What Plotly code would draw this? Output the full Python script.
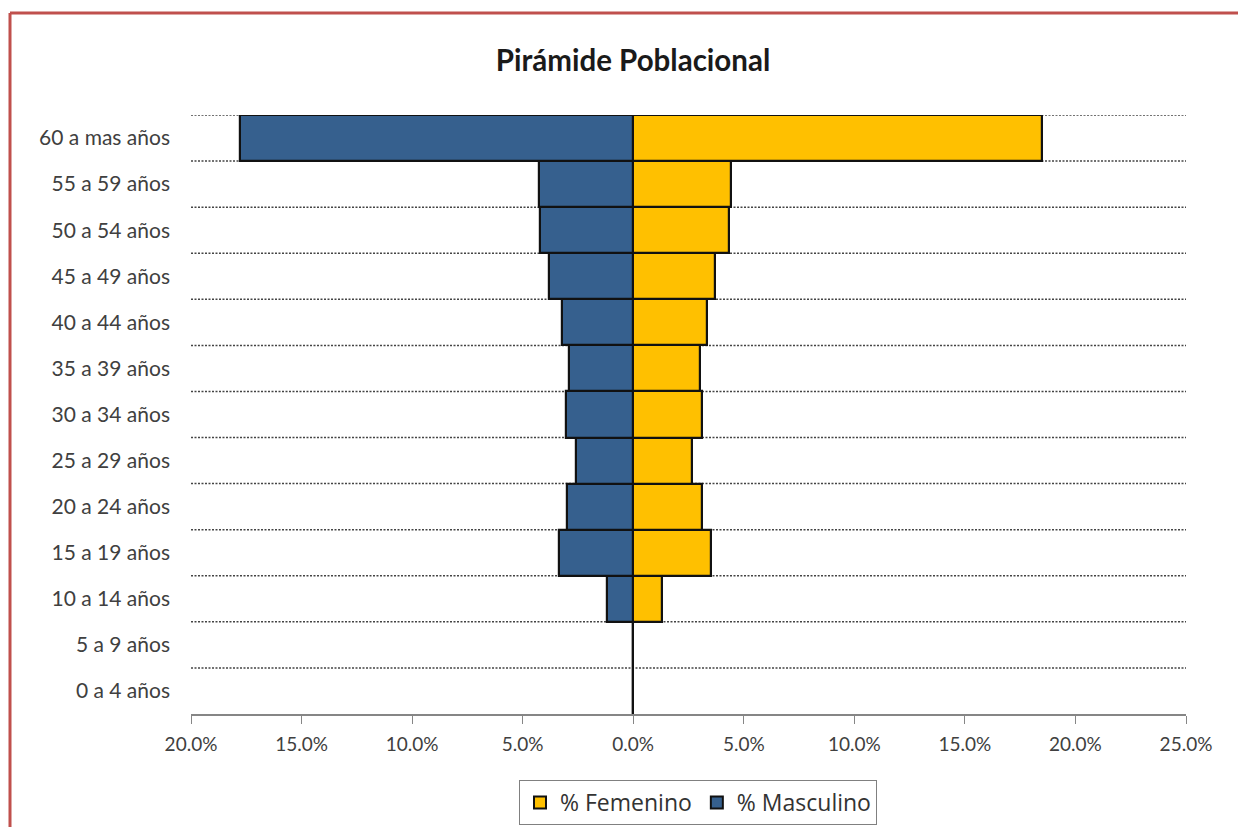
import plotly.graph_objects as go

categories = ["0 a 4 años", "5 a 9 años", "10 a 14 años", "15 a 19 años", "20 a 24 años",
              "25 a 29 años", "30 a 34 años", "35 a 39 años", "40 a 44 años", "45 a 49 años",
              "50 a 54 años", "55 a 59 años", "60 a mas años"]
femenino = [0.0, 0.0, 1.3, 3.5, 3.1, 2.65, 3.1, 3.0, 3.35, 3.7, 4.35, 4.4, 18.5]
masculino = [0.0, 0.0, 1.2, 3.35, 3.0, 2.6, 3.05, 2.9, 3.2, 3.8, 4.2, 4.25, 17.8]
tick_values = [-20, -15, -10, -5, 0, 5, 10, 15, 20, 25]
tick_labels = ["20.0%", "15.0%", "10.0%", "5.0%", "0.0%", "5.0%", "10.0%", "15.0%", "20.0%", "25.0%"]

W, H = 1238, 827
L, R, T, B = 191, 1186, 115, 714

fig = go.Figure()
fig.add_trace(go.Bar(
    y=categories, x=femenino, orientation="h", name="% Femenino",
    marker=dict(color="#FFC000", line=dict(color="#111111", width=2.2)),
))
fig.add_trace(go.Bar(
    y=categories, x=[-v for v in masculino], orientation="h", name="% Masculino",
    marker=dict(color="#36608E", line=dict(color="#111111", width=2.2)),
))

# dotted category-boundary gridlines
shapes = []
for i in range(len(categories)):
    yb = i + 0.5
    shapes.append(dict(type="line", xref="paper", x0=0, x1=1, yref="y", y0=yb, y1=yb,
                       line=dict(color="#444444", width=1.5, dash="2px,1.5px"), layer="below"))

# red outer border (top and left)
def px_x(p):
    return (p - L) / (R - L)

def px_y(p):
    return (B - p) / (B - T)

shapes.append(dict(type="line", xref="paper", yref="paper",
                   x0=px_x(10), x1=px_x(1240), y0=px_y(13), y1=px_y(13),
                   line=dict(color="#C0504D", width=3)))
shapes.append(dict(type="line", xref="paper", yref="paper",
                   x0=px_x(10), x1=px_x(10), y0=px_y(13), y1=px_y(830),
                   line=dict(color="#C0504D", width=3)))

fig.update_layout(
    width=W, height=H,
    margin=dict(l=L, r=W - R, t=T, b=H - B, autoexpand=False),
    paper_bgcolor="white", plot_bgcolor="white",
    barmode="overlay", bargap=0,
    title=dict(text="<b>Pirámide Poblacional</b>", x=633 / W, xanchor="center", xref="container",
               y=1 - 61 / H, yanchor="middle", yref="container",
               font=dict(family="Lato", size=29.5, color="#1a1a1a")),
    xaxis=dict(range=[-20, 25], tickvals=tick_values, ticktext=tick_labels,
               showgrid=False, zeroline=True, zerolinecolor="#222222", zerolinewidth=1,
               showline=True, linecolor="#868686", linewidth=1.5,
               ticks="outside", ticklen=8, tickcolor="#868686", ticklabelstandoff=4,
               tickfont=dict(family="Lato", size=19, color="#404040")),
    yaxis=dict(type="category", categoryorder="array", categoryarray=categories,
               range=[-0.5, 12.5], showgrid=False, zeroline=False, showline=False,
               ticks="", ticklabelstandoff=20,
               tickfont=dict(family="Lato", size=21, color="#404040")),
    legend=dict(orientation="h", x=px_x(698), xanchor="center", y=px_y(780), yanchor="top",
                bordercolor="#808080", borderwidth=1, bgcolor="white",
                font=dict(family="Open Sans", size=23, color="#333333"),
                itemwidth=30, traceorder="normal", tracegroupgap=0,
                itemsizing="constant"),
    shapes=shapes,
    showlegend=True,
)

fig.write_html("out.html")
